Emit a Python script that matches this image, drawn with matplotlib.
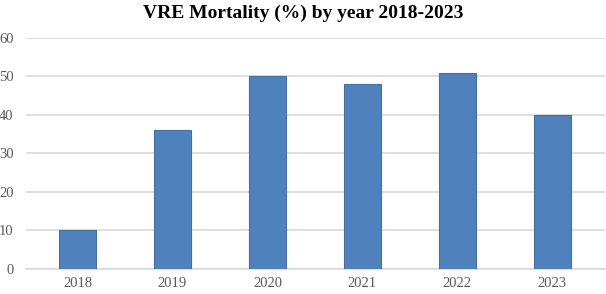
import matplotlib.pyplot as plt
import numpy as np

years = ['2018', '2019', '2020', '2021', '2022', '2023']
mortality = [10, 36, 50, 48, 51, 40]

plt.rcParams['font.family'] = ['Liberation Serif', 'DejaVu Serif']

fig = plt.figure(figsize=(6.06, 2.94), dpi=100)
ax = fig.add_axes([0.043, 0.085, 0.955, 0.786])

x = np.arange(len(years))
ax.bar(x, mortality, width=0.39, color='#4f81bd', edgecolor='#41719c', linewidth=0.8, zorder=3)

ax.set_xlim(-0.542, 5.553)
ax.set_ylim(0, 60)
ax.set_yticks(range(0, 61, 10))
ax.set_xticks(x)
ax.set_xticklabels(years)
ax.yaxis.grid(True, color='#d9d9d9', linewidth=1.2, zorder=0)
ax.tick_params(axis='both', length=0, labelsize=10.5, colors='#595959')
ax.tick_params(axis='y', pad=9)
ax.tick_params(axis='x', pad=6)
for s in ['top', 'right', 'left']:
    ax.spines[s].set_visible(False)
ax.spines['bottom'].set_color('#d9d9d9')
ax.spines['bottom'].set_linewidth(1.2)

fig.suptitle('VRE Mortality (%) by year 2018-2023', y=0.985, fontsize=14, fontweight='bold')

plt.savefig('out.png', dpi=100)
